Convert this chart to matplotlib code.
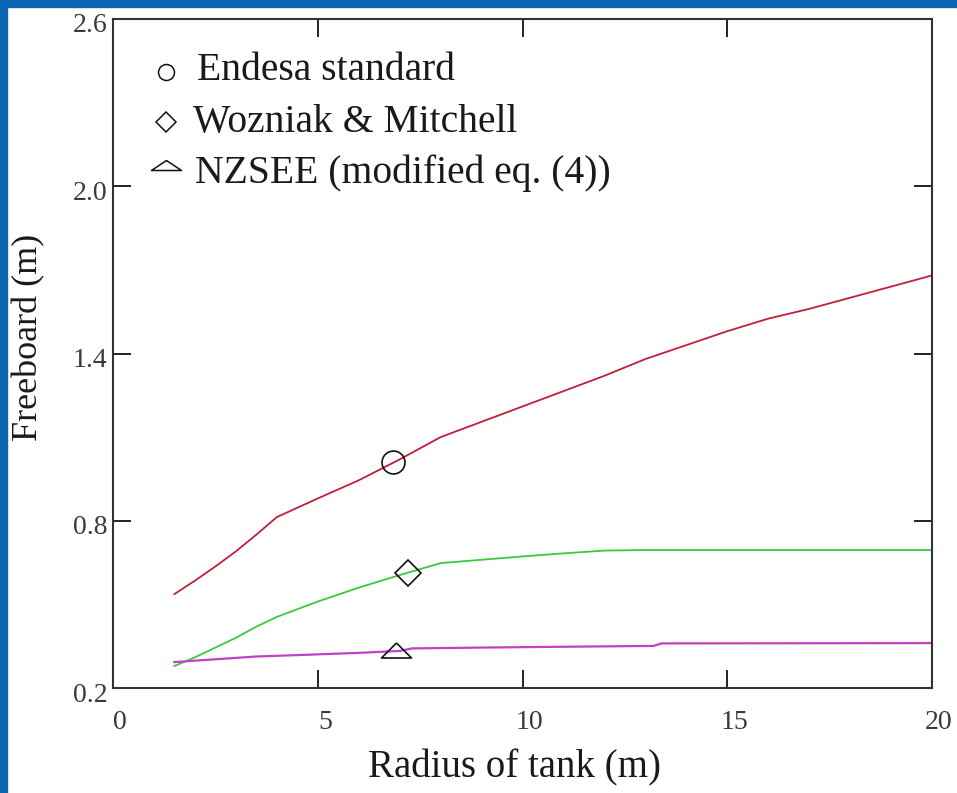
import matplotlib
matplotlib.use('Agg')
import matplotlib.pyplot as plt
import matplotlib.transforms as mtransforms
from matplotlib.patches import Rectangle

# Endesa standard (red)
endesa_r = [1.5, 2, 2.5, 3, 3.5, 4, 5, 6, 7, 8, 9, 10, 11, 12, 13, 14, 15, 16, 17, 18, 19, 20]
endesa_f = [0.537, 0.585, 0.636, 0.69, 0.75, 0.813, 0.88, 0.945, 1.02, 1.10, 1.155, 1.21, 1.265,
            1.32, 1.38, 1.43, 1.48, 1.525, 1.56, 1.60, 1.64, 1.68]
# Wozniak & Mitchell (green)
wozniak_r = [1.5, 2, 2.5, 3, 3.5, 4, 5, 6, 7, 8, 9, 10, 11, 12, 13, 20]
wozniak_f = [0.279, 0.31, 0.345, 0.38, 0.42, 0.455, 0.51, 0.56, 0.605, 0.648, 0.66, 0.672,
             0.683, 0.693, 0.695, 0.695]
# NZSEE modified eq. (4) (magenta)
nzsee_r = [1.5, 2.5, 3.5, 4.5, 6, 7, 7.3, 9, 11, 13.2, 13.4, 20]
nzsee_f = [0.293, 0.303, 0.313, 0.318, 0.326, 0.333, 0.342, 0.345, 0.348, 0.351, 0.36, 0.361]

# single marker per curve
marker_pts = {'endesa': (6.84, 1.011), 'wozniak': (7.2, 0.612), 'nzsee': (6.9, 0.336)}

legend_labels = ['Endesa standard', 'Wozniak & Mitchell', 'NZSEE (modified eq. (4))']
xticks = [0, 5, 10, 15, 20]
yticks = [0.2, 0.8, 1.4, 2.0, 2.6]

plt.rcParams['font.family'] = ['Liberation Serif', 'DejaVu Serif']

fig = plt.figure(figsize=(9.57, 7.93), dpi=100)
fig.patch.set_facecolor('white')
blue = '#0a66b2'
fig.patches.append(Rectangle((0, 0), 7 / 957, 1, transform=fig.transFigure, color=blue, zorder=10))
fig.patches.append(Rectangle((0, 1 - 7 / 793), 1, 7 / 793, transform=fig.transFigure, color=blue, zorder=10))

ax = fig.add_axes([113 / 957, 105 / 793, 819 / 957, 669 / 793])

ax.plot(endesa_r, endesa_f, color='#c41e3a', lw=1.3)
ax.plot(wozniak_r, wozniak_f, color='#3cc83c', lw=1.3)
ax.plot(nzsee_r, nzsee_f, color='#c040c8', lw=1.6)

tri_flat = [(0, 1), (-2, -1), (2, -1), (0, 1)]
tri_flat2 = [(0, 1), (-3, -1), (3, -1), (0, 1)]
mk = dict(ls='none', mfc='none', mec='#111111', mew=1.2)
ax.plot(*marker_pts['endesa'], marker='o', ms=16.5, **mk)
ax.plot(*marker_pts['wozniak'], marker='D', ms=13, **mk)
ax.plot(*marker_pts['nzsee'], marker=tri_flat, ms=21.6, **mk)

ax.set_xlim(0, 20)
ax.set_ylim(0.2, 2.6)
ax.set_xticks(xticks)
ax.set_yticks(yticks)
ax.set_xticklabels([str(v) for v in xticks])
ax.set_yticklabels(['%.1f' % v for v in yticks])
ax.tick_params(direction='in', length=13, width=1.4, color='#222222',
               top=True, right=True, labelsize=20, labelcolor='#3a3a3a')
ax.tick_params(axis='x', pad=16)
ax.tick_params(axis='y', pad=4)
for s in ax.spines.values():
    s.set_linewidth(1.5)
    s.set_color('#333333')

# Mathcad-style label offsets
dx = mtransforms.ScaledTranslation(7 / 100, 0, fig.dpi_scale_trans)
dy = mtransforms.ScaledTranslation(0, -4 / 100, fig.dpi_scale_trans)
for lab in ax.get_xticklabels():
    lab.set_transform(lab.get_transform() + dx)
for lab in ax.get_yticklabels():
    lab.set_transform(lab.get_transform() + dy)

# legend drawn as symbols + text
leg_markers = [('o', 11.5), ('D', 10.2), (tri_flat2, 21.6)]
leg_sym_y = [72, 122, 165]
leg_base_y = [80, 132, 183]
leg_text_x = [197, 193, 195]
for (m, size), sy, by, tx, lab in zip(leg_markers, leg_sym_y, leg_base_y, leg_text_x, legend_labels):
    ax.plot((166 - 113) / 819, (688 - sy) / 669, marker=m, ms=size, transform=ax.transAxes,
            clip_on=False, ls='none', mfc='none', mec='#111111', mew=1.1)
    ax.text((tx - 113) / 819, (688 - by) / 669, lab, transform=ax.transAxes,
            fontsize=28.5, color='#1a1a1a', ha='left', va='baseline')

fig.text(515 / 957, 1 - 768 / 793, 'Radius of tank (m)', fontsize=28, color='#1a1a1a',
         ha='center', va='center')
fig.text(29 / 957, 1 - 337 / 793, 'Freeboard (m)', fontsize=26, color='#1a1a1a',
         ha='center', va='center', rotation=90)

fig.savefig('out.png', dpi=100)
